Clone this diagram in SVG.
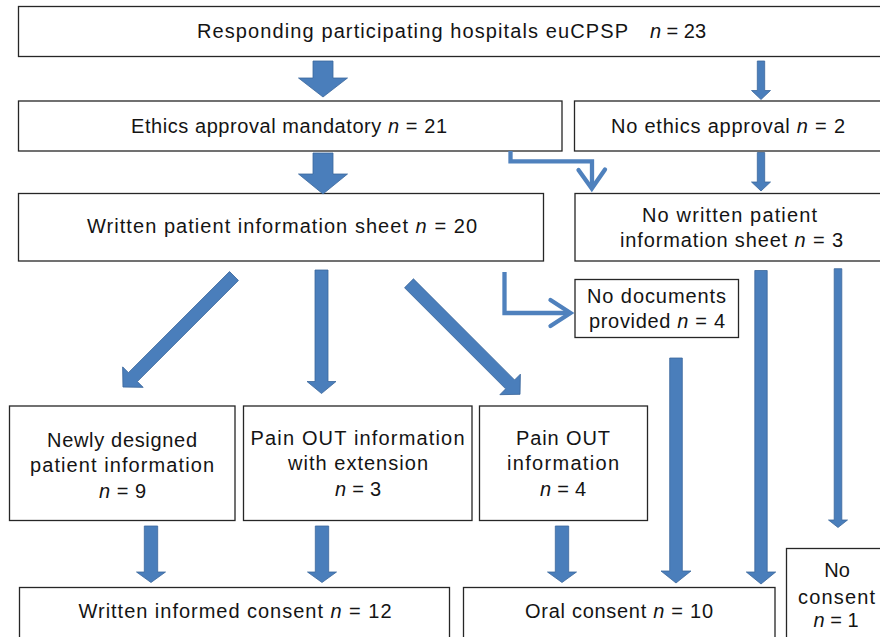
<svg xmlns="http://www.w3.org/2000/svg" width="880" height="637" viewBox="0 0 880 637">
<defs>
<style>
.box{fill:#fff;stroke:#262626;stroke-width:1.3}
.t{font-family:"Liberation Sans",Arial,sans-serif;font-size:20px;fill:#141414;text-anchor:middle}
.i{font-style:italic}
.ba{fill:#4a7ebb;stroke:#3b679c;stroke-width:0.8}
.el{fill:none;stroke:#4f81bd;stroke-width:4.3}
</style>
</defs>
<rect width="880" height="637" fill="#fff"/>

<g id="n_top">
<rect class="box" x="18.5" y="6.5" width="868" height="50"/>
<text class="t" x="412.5" y="38" textLength="431" lengthAdjust="spacing">Responding participating hospitals euCPSP</text>
<text class="t" x="678" y="38" textLength="56" lengthAdjust="spacing"><tspan class="i">n</tspan> = 23</text>
</g>

<g id="n_ethics">
<rect class="box" x="18.5" y="101" width="543.5" height="50"/>
<text class="t" x="289" y="132.5" textLength="316" lengthAdjust="spacing">Ethics approval mandatory <tspan class="i">n</tspan> = 21</text>
</g>

<g id="n_noethics">
<rect class="box" x="574.5" y="101" width="310" height="50"/>
<text class="t" x="728" y="132.5" textLength="234" lengthAdjust="spacing">No ethics approval <tspan class="i">n</tspan> = 2</text>
</g>

<g id="n_written">
<rect class="box" x="18.5" y="193.5" width="525" height="67.5"/>
<text class="t" x="282" y="233" textLength="390" lengthAdjust="spacing">Written patient information sheet <tspan class="i">n</tspan> = 20</text>
</g>

<g id="n_nowritten">
<rect class="box" x="575" y="193.5" width="310" height="67.5"/>
<text class="t" x="729.5" y="222" textLength="175" lengthAdjust="spacing">No written patient</text>
<text class="t" x="731.5" y="247" textLength="223" lengthAdjust="spacing">information sheet <tspan class="i">n</tspan> = 3</text>
</g>

<g id="n_nodocs">
<rect class="box" x="575" y="279.5" width="163.5" height="58"/>
<text class="t" x="656.5" y="303" textLength="139" lengthAdjust="spacing">No documents</text>
<text class="t" x="657" y="327.5" textLength="136" lengthAdjust="spacing">provided <tspan class="i">n</tspan> = 4</text>
</g>

<g id="n_newly">
<rect class="box" x="9.5" y="406" width="225.5" height="114.5"/>
<text class="t" x="122" y="446.5" textLength="150" lengthAdjust="spacing">Newly designed</text>
<text class="t" x="122" y="471.5" textLength="184" lengthAdjust="spacing">patient information</text>
<text class="t" x="122.5" y="497.5" textLength="47" lengthAdjust="spacing"><tspan class="i">n</tspan> = 9</text>
</g>

<g id="n_painext">
<rect class="box" x="243.5" y="406" width="228.5" height="114.5"/>
<text class="t" x="357.5" y="445" textLength="214" lengthAdjust="spacing">Pain OUT information</text>
<text class="t" x="358" y="470" textLength="140" lengthAdjust="spacing">with extension</text>
<text class="t" x="358" y="496" textLength="46" lengthAdjust="spacing"><tspan class="i">n</tspan> = 3</text>
</g>

<g id="n_pain">
<rect class="box" x="479.5" y="406" width="168" height="114.5"/>
<text class="t" x="563" y="445" textLength="94" lengthAdjust="spacing">Pain OUT</text>
<text class="t" x="563" y="470" textLength="112" lengthAdjust="spacing">information</text>
<text class="t" x="563" y="496" textLength="46" lengthAdjust="spacing"><tspan class="i">n</tspan> = 4</text>
</g>

<g id="n_writtenconsent">
<rect class="box" x="19.5" y="587.5" width="430" height="60"/>
<text class="t" x="235" y="618" textLength="313" lengthAdjust="spacing">Written informed consent <tspan class="i">n</tspan> = 12</text>
</g>

<g id="n_oral">
<rect class="box" x="463.5" y="587.5" width="311.5" height="60"/>
<text class="t" x="619" y="618" textLength="188" lengthAdjust="spacing">Oral consent <tspan class="i">n</tspan> = 10</text>
</g>

<g id="n_noconsent">
<rect class="box" x="786.5" y="548.5" width="110" height="100"/>
<text class="t" x="837" y="577">No</text>
<text class="t" x="836.5" y="603.5" textLength="77" lengthAdjust="spacing">consent</text>
<text class="t" x="836" y="627" textLength="45" lengthAdjust="spacing"><tspan class="i">n</tspan> = 1</text>
</g>

<g id="connectors">
<polygon class="ba" points="313,61 333,61 333,78 347.5,78 323,97 298.5,78 313,78"/>
<polygon class="ba" points="313,153 333,153 333,174 347.5,174 323,194 298.5,174 313,174"/>
<polygon class="ba" points="757.3,61 764.7,61 764.7,90.5 770.5,90.5 761,99.5 751.5,90.5 757.3,90.5"/>
<polygon class="ba" points="757.3,152.5 764.7,152.5 764.7,182 770.5,182 761,191 751.5,182 757.3,182"/>
<polygon class="ba" points="315,270 328,270 328,381.5 336,381.5 321.5,393.5 307,381.5 315,381.5"/>
<polygon class="ba" transform="translate(234,276) rotate(45)" points="-6.3,0 6.3,0 6.3,143 14.5,143 0,157 -14.5,143 -6.3,143"/>
<polygon class="ba" transform="translate(409,283.3) rotate(-45)" points="-6.3,0 6.3,0 6.3,143 14.5,143 0,157 -14.5,143 -6.3,143"/>
<polygon class="ba" points="144.3,526 157.7,526 157.7,572 165.5,572 151,582.5 136.5,572 144.3,572"/>
<polygon class="ba" points="315.3,526 328.7,526 328.7,572 336.5,572 322,582.5 307.5,572 315.3,572"/>
<polygon class="ba" points="555.3,526 568.7,526 568.7,572 576.5,572 562,582.5 547.5,572 555.3,572"/>
<polygon class="ba" points="669.7,358 682.3,358 682.3,571 691,571 676,583 661,571 669.7,571"/>
<polygon class="ba" points="754.8,270.5 767.2,270.5 767.2,572 775.7,572 761,584 746.3,572 754.8,572"/>
<polygon class="ba" points="834.2,268.7 841.8,268.7 841.8,520 847.5,520 838,527.5 828.5,520 834.2,520"/>
<path class="el" d="M510.5,151 V161.3 H592 V188"/>
<polyline class="el" points="578.5,170 591.8,188.5 605,169.5" stroke-linecap="round"/>
<path class="el" d="M504.5,272 V313 H569"/>
<polyline class="el" points="550.5,300 570.5,313 550.5,326" stroke-linecap="round"/>
</g>
</svg>
